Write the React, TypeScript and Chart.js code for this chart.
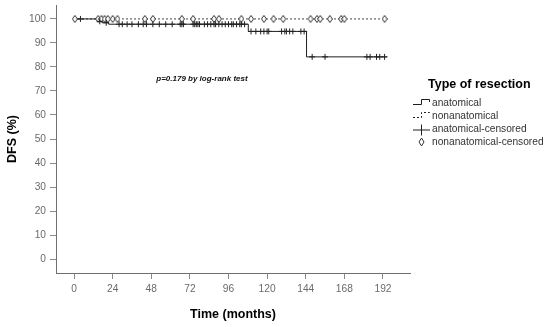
import React, { useEffect, useRef } from "react";
import { Chart, registerables } from "chart.js";

Chart.register(...registerables);

// ---- data ----
const X_TICKS = [0, 24, 48, 72, 96, 120, 144, 168, 192];
const Y_TICKS = [0, 10, 20, 30, 40, 50, 60, 70, 80, 90, 100];

// Kaplan-Meier step curve: event times (months) and survival (%) after each event
const ANAT_TIMES = [0, 14.5, 17.5, 21.5, 108.3, 144.5, 194.5];
const ANAT_SURV = [100, 99.0, 98.4, 97.8, 94.8, 84.2, 84.2];
const NONANAT_TIMES = [0, 194];
const NONANAT_SURV = [100, 100];

// censored times (months)
const ANAT_CENSOR = [
  4, 16, 20, 28, 30, 33, 36, 40, 43, 45, 49, 53, 57, 61, 66, 67, 68, 74, 75, 76,
  77, 78, 81, 83, 85, 87, 88, 90, 92, 94, 96, 98, 99, 101, 103, 104, 106, 110,
  113, 116, 118, 120, 121, 129, 131, 132, 134, 136, 141, 143, 148, 156, 182,
  184, 188, 190, 193,
];
const NONANAT_CENSOR = [
  0.5, 15, 17, 19, 21, 24, 27, 44, 49, 67, 74, 87, 90, 104, 110, 118, 124, 130,
  147, 151, 153, 159, 166, 168, 193,
];

const SERIES_LABELS = ["anatomical", "nonanatomical", "anatomical-censored", "nonanatomical-censored"];
const LEGEND_TITLE = "Type of resection";
const X_TITLE = "Time (months)";
const Y_TITLE = "DFS (%)";
const ANNOTATION = "p=0.179 by log-rank test";
const ANNOTATION_AT = { x: 79.5, y: 75.2 };

function survAt(times: number[], surv: number[], t: number) {
  let v = surv[0];
  for (let i = 0; i < times.length; i++) {
    if (times[i] <= t) v = surv[i];
  }
  return v;
}

const FONT = "'Liberation Sans', Arial, sans-serif";
const LINE_COLOR = "#1e1e1e";

function makeDiamond(): HTMLCanvasElement {
  const c = document.createElement("canvas");
  c.width = 6;
  c.height = 8;
  const ctx = c.getContext("2d")!;
  ctx.beginPath();
  ctx.moveTo(3, 0.5);
  ctx.lineTo(5.5, 4);
  ctx.lineTo(3, 7.5);
  ctx.lineTo(0.5, 4);
  ctx.closePath();
  ctx.fillStyle = "#ffffff";
  ctx.fill();
  ctx.strokeStyle = "#333";
  ctx.lineWidth = 1;
  ctx.stroke();
  return c;
}

const legendPlugin = {
  id: "kmLegend",
  afterDraw(chart: any) {
    const ctx = chart.ctx as CanvasRenderingContext2D;
    ctx.save();
    // annotation
    const xs = chart.scales.x;
    const ys = chart.scales.y;
    ctx.fillStyle = "#111";
    ctx.font = `italic bold 8px ${FONT}`;
    ctx.textAlign = "center";
    ctx.textBaseline = "middle";
    ctx.fillText(ANNOTATION, xs.getPixelForValue(ANNOTATION_AT.x), ys.getPixelForValue(ANNOTATION_AT.y));

    // legend title
    ctx.textAlign = "left";
    ctx.fillStyle = "#000";
    ctx.font = `bold 12.5px ${FONT}`;
    ctx.fillText(LEGEND_TITLE, 428, 85);

    const rows = [103, 116, 129.5, 142];
    const textX = 432;
    ctx.font = `10.2px ${FONT}`;
    ctx.fillStyle = "#333";
    SERIES_LABELS.forEach((lab, i) => ctx.fillText(lab, textX, rows[i]));

    ctx.strokeStyle = LINE_COLOR;
    ctx.lineWidth = 1;
    // anatomical step icon
    ctx.beginPath();
    ctx.moveTo(413, rows[0] + 1.5);
    ctx.lineTo(421.5, rows[0] + 1.5);
    ctx.lineTo(421.5, rows[0] - 3.5);
    ctx.lineTo(429.5, rows[0] - 3.5);
    ctx.lineTo(429.5, rows[0] - 1);
    ctx.stroke();
    // nonanatomical dotted step icon
    ctx.setLineDash([2, 2]);
    ctx.beginPath();
    ctx.moveTo(413, rows[1] + 1.5);
    ctx.lineTo(421.5, rows[1] + 1.5);
    ctx.lineTo(421.5, rows[1] - 3.5);
    ctx.lineTo(429.5, rows[1] - 3.5);
    ctx.lineTo(429.5, rows[1] - 1);
    ctx.stroke();
    ctx.setLineDash([]);
    // cross icon
    ctx.beginPath();
    ctx.moveTo(413, rows[2] + 0.5);
    ctx.lineTo(430, rows[2] + 0.5);
    ctx.moveTo(421.5, rows[2] - 5);
    ctx.lineTo(421.5, rows[2] + 6);
    ctx.stroke();
    // diamond icon
    ctx.beginPath();
    ctx.moveTo(421.5, rows[3] - 4);
    ctx.lineTo(424, rows[3]);
    ctx.lineTo(421.5, rows[3] + 4);
    ctx.lineTo(419, rows[3]);
    ctx.closePath();
    ctx.strokeStyle = "#333";
    ctx.stroke();
    ctx.restore();
  },
};

export default function App() {
  const ref = useRef<HTMLCanvasElement | null>(null);

  useEffect(() => {
    if (!ref.current) return;
    const diamond = makeDiamond();
    const anatLine = ANAT_TIMES.map((t, i) => ({ x: t, y: ANAT_SURV[i] }));
    const nonLine = NONANAT_TIMES.map((t, i) => ({ x: t, y: NONANAT_SURV[i] }));
    const anatCens = ANAT_CENSOR.map((t) => ({ x: t, y: survAt(ANAT_TIMES, ANAT_SURV, t) }));
    const nonCens = NONANAT_CENSOR.map((t) => ({ x: t, y: survAt(NONANAT_TIMES, NONANAT_SURV, t) }));

    const axisGrid = { drawOnChartArea: false, drawTicks: true, tickLength: 6, color: "#8a8a8a", lineWidth: 1 };
    const axisBorder = { display: true, color: "#6f6f6f", width: 1 };
    const tickFont = { family: FONT, size: 10.2 };
    const titleFont = { family: FONT, size: 12.5, weight: "bold" as const };

    const chart = new Chart(ref.current, {
      type: "line",
      data: {
        datasets: [
          {
            label: SERIES_LABELS[2],
            data: anatCens,
            showLine: false,
            pointStyle: "cross",
            pointRadius: 3,
            pointBorderColor: "#222",
            pointBorderWidth: 1,
            borderColor: "#222",
          },
          {
            label: SERIES_LABELS[3],
            data: nonCens,
            showLine: false,
            pointStyle: diamond as any,
            pointRadius: 3,
          },
          {
            label: SERIES_LABELS[0],
            data: anatLine,
            stepped: "before",
            borderColor: LINE_COLOR,
            borderWidth: 1,
            pointRadius: 0,
            fill: false,
          },
          {
            label: SERIES_LABELS[1],
            data: nonLine,
            stepped: "before",
            borderColor: "#444",
            borderWidth: 1,
            borderDash: [2, 2],
            pointRadius: 0,
            fill: false,
          },
        ],
      },
      options: {
        responsive: true,
        maintainAspectRatio: false,
        animation: false,
        layout: { padding: { top: 3, right: 140, left: 0, bottom: 0 } },
        plugins: { legend: { display: false }, tooltip: { enabled: false } },
        scales: {
          x: {
            type: "linear",
            min: -11.2,
            max: 208.8,
            afterBuildTicks: (s: any) => {
              s.ticks = X_TICKS.map((v) => ({ value: v }));
            },
            afterFit: (s: any) => {
              s.height = 54;
              s.paddingLeft = 0;
              s.paddingRight = 0;
            },
            grid: axisGrid,
            border: axisBorder,
            ticks: { color: "#6a6a6a", font: tickFont, padding: 4, maxRotation: 0, autoSkip: false },
            title: { display: true, text: X_TITLE, color: "#000", font: titleFont, padding: { top: 0, bottom: 5 } },
          },
          y: {
            type: "linear",
            min: -5.8,
            max: 105.8,
            afterBuildTicks: (s: any) => {
              s.ticks = Y_TICKS.map((v) => ({ value: v }));
            },
            afterFit: (s: any) => {
              s.width = 56;
              s.paddingTop = 0;
              s.paddingBottom = 0;
            },
            grid: axisGrid,
            border: axisBorder,
            ticks: { color: "#6a6a6a", font: tickFont, padding: 4, autoSkip: false },
            title: { display: true, text: Y_TITLE, color: "#000", font: titleFont, padding: { top: 5, bottom: 0 } },
          },
        },
      },
      plugins: [legendPlugin],
    } as any);

    return () => chart.destroy();
  }, []);

  return (
    <div style={{ position: "absolute", left: 0, top: 0, width: 550, height: 327, background: "#fff" }}>
      <canvas ref={ref} />
    </div>
  );
}
